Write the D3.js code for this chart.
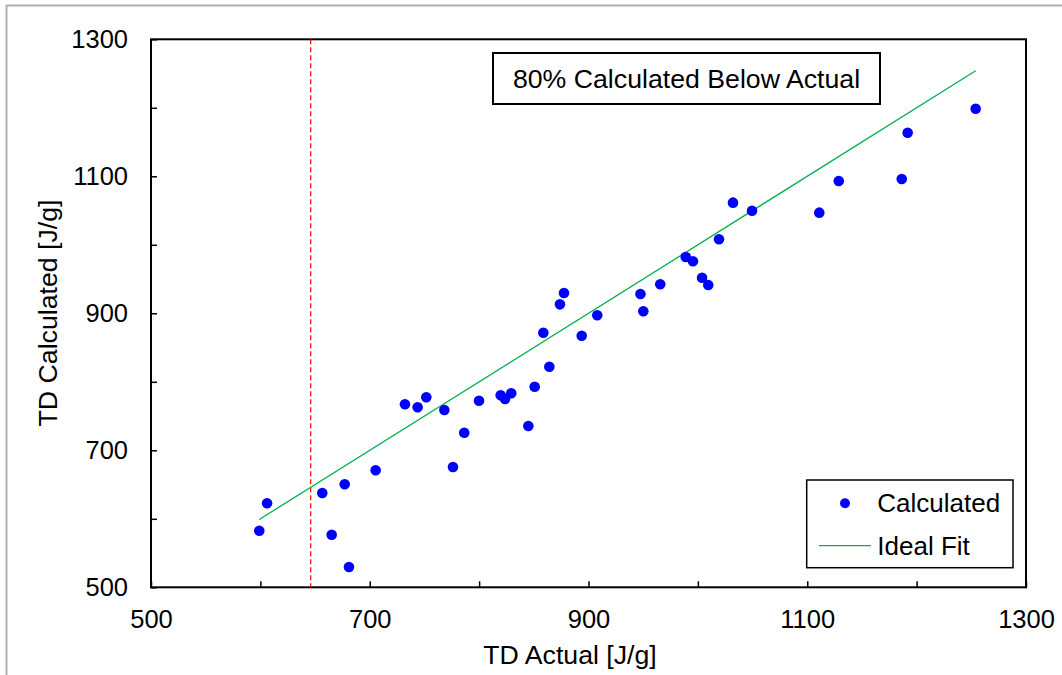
<!DOCTYPE html>
<html>
<head>
<meta charset="utf-8">
<script src="https://cdn.jsdelivr.net/npm/d3@7"></script>
<style>
  html, body { margin: 0; padding: 0; background: #fff; }
  svg { display: block; font-family: "Liberation Sans", Arial, sans-serif; }
</style>
</head>
<body>
<svg id="chart" width="1062" height="675"></svg>
<script>
// ---- Data ----
const actual = [599.0, 606.1, 656.6, 665.2, 677.1, 681.0, 705.4, 732.2, 743.8, 751.7,
  768.2, 776.1, 786.4, 799.9, 819.7, 823.7, 829.4, 845.0, 850.8, 858.7,
  864.2, 873.9, 877.6, 893.8, 908.0, 947.5, 950.1, 965.6, 988.9, 995.5,
  1003.8, 1009.5, 1019.3, 1032.1, 1049.5, 1111.0, 1128.8, 1186.4, 1191.8, 1254.0];
const calculated = [582.6, 622.6, 637.7, 576.8, 650.4, 529.6, 670.8, 767.2, 762.8, 777.4,
  758.8, 675.6, 725.7, 772.4, 780.3, 774.9, 783.2, 735.5, 792.8, 871.7,
  822.0, 913.1, 929.6, 867.3, 897.1, 928.2, 902.9, 942.3, 982.2, 975.9,
  952.0, 941.3, 1008.0, 1061.5, 1049.8, 1046.9, 1093.1, 1096.1, 1163.6, 1198.7];
const idealFitX = [599.0, 1254.0];          // y = x over the range of actual values
const thresholdX = 646;                      // red dashed vertical line
const xTicks = [500, 600, 700, 800, 900, 1000, 1100, 1200, 1300];
const yTicks = [500, 600, 700, 800, 900, 1000, 1100, 1200, 1300];
const xTickLabels = [500, 700, 900, 1100, 1300];
const yTickLabels = [500, 700, 900, 1100, 1300];
const xTitle = "TD Actual [J/g]";
const yTitle = "TD Calculated [J/g]";
const annotation = "80% Calculated Below Actual";
const legendLabels = ["Calculated", "Ideal Fit"];

// ---- Layout ----
const svg = d3.select("#chart");
const L = 151, R = 1026, T = 39.3, B = 587.3;
const x = d3.scaleLinear().domain([500, 1300]).range([L, R]);
const y = d3.scaleLinear().domain([500, 1300]).range([B, T]);
const FS_TICK = 25.5, FS_TITLE = 26.7, FS_LEG = 26;

// outer frame (left + top visible)
svg.append("path")
  .attr("d", `M6.5,675 V5.5 H1062`)
  .attr("fill", "none").attr("stroke", "#b0b0b0").attr("stroke-width", 2);

// axes
const xAxis = d3.axisBottom(x).tickValues(xTicks)
  .tickFormat(d => xTickLabels.includes(d) ? String(d) : "")
  .tickSizeInner(-6).tickSizeOuter(0).tickPadding(23);
const yAxis = d3.axisLeft(y).tickValues(yTicks)
  .tickFormat(d => yTickLabels.includes(d) ? String(d) : "")
  .tickSizeInner(-6).tickSizeOuter(0).tickPadding(23);

const gx = svg.append("g").attr("transform", `translate(0,${B})`).call(xAxis);
const gy = svg.append("g").attr("transform", `translate(${L},0)`).call(yAxis);
[gx, gy].forEach(g => {
  g.select(".domain").remove();
  g.selectAll(".tick line").attr("stroke", "#000").attr("stroke-width", 1.5);
  g.selectAll(".tick text").attr("fill", "#000")
    .style("font-size", FS_TICK + "px").style("font-family", '"Liberation Sans", Arial, sans-serif');
});

// plot-area frame
svg.append("rect")
  .attr("x", L).attr("y", T).attr("width", R - L).attr("height", B - T)
  .attr("fill", "none").attr("stroke", "#000").attr("stroke-width", 2);

// red dashed threshold line
svg.append("line")
  .attr("x1", x(thresholdX)).attr("x2", x(thresholdX))
  .attr("y1", y(1300)).attr("y2", y(500))
  .attr("stroke", "#ff0000").attr("stroke-width", 1.2)
  .attr("stroke-dasharray", "5,3");

// ideal fit line
svg.append("line")
  .attr("x1", x(idealFitX[0])).attr("y1", y(idealFitX[0]))
  .attr("x2", x(idealFitX[1])).attr("y2", y(idealFitX[1]))
  .attr("stroke", "#00b050").attr("stroke-width", 1.3);

// points
svg.append("g").selectAll("circle")
  .data(actual.map((a, i) => [a, calculated[i]]))
  .join("circle")
  .attr("cx", d => x(d[0])).attr("cy", d => y(d[1]))
  .attr("r", 5.3).attr("fill", "#0000ff");

// annotation box
svg.append("rect")
  .attr("x", 493).attr("y", 53).attr("width", 387).attr("height", 51)
  .attr("fill", "#fff").attr("stroke", "#000").attr("stroke-width", 2);
svg.append("text")
  .attr("x", 686.5).attr("y", 88).attr("text-anchor", "middle")
  .style("font-size", FS_TITLE + "px").text(annotation);

// legend
svg.append("rect")
  .attr("x", 806.7).attr("y", 480).attr("width", 206.3).attr("height", 87.7)
  .attr("fill", "#fff").attr("stroke", "#000").attr("stroke-width", 1.5);
svg.append("circle").attr("cx", 845).attr("cy", 503.3).attr("r", 5)
  .attr("fill", "#0000ff");
svg.append("text").attr("x", 877.3).attr("y", 511.5)
  .style("font-size", FS_LEG + "px").text(legendLabels[0]);
svg.append("line").attr("x1", 819).attr("x2", 871).attr("y1", 545.7).attr("y2", 545.7)
  .attr("stroke", "#00b050").attr("stroke-width", 1.3);
svg.append("text").attr("x", 877.3).attr("y", 554.5)
  .style("font-size", FS_LEG + "px").text(legendLabels[1]);

// axis titles
svg.append("text")
  .attr("x", 570).attr("y", 664).attr("text-anchor", "middle")
  .style("font-size", FS_TITLE + "px").text(xTitle);
svg.append("text")
  .attr("transform", `translate(57,313) rotate(-90)`)
  .attr("text-anchor", "middle")
  .style("font-size", FS_TITLE + "px").text(yTitle);
</script>
</body>
</html>
